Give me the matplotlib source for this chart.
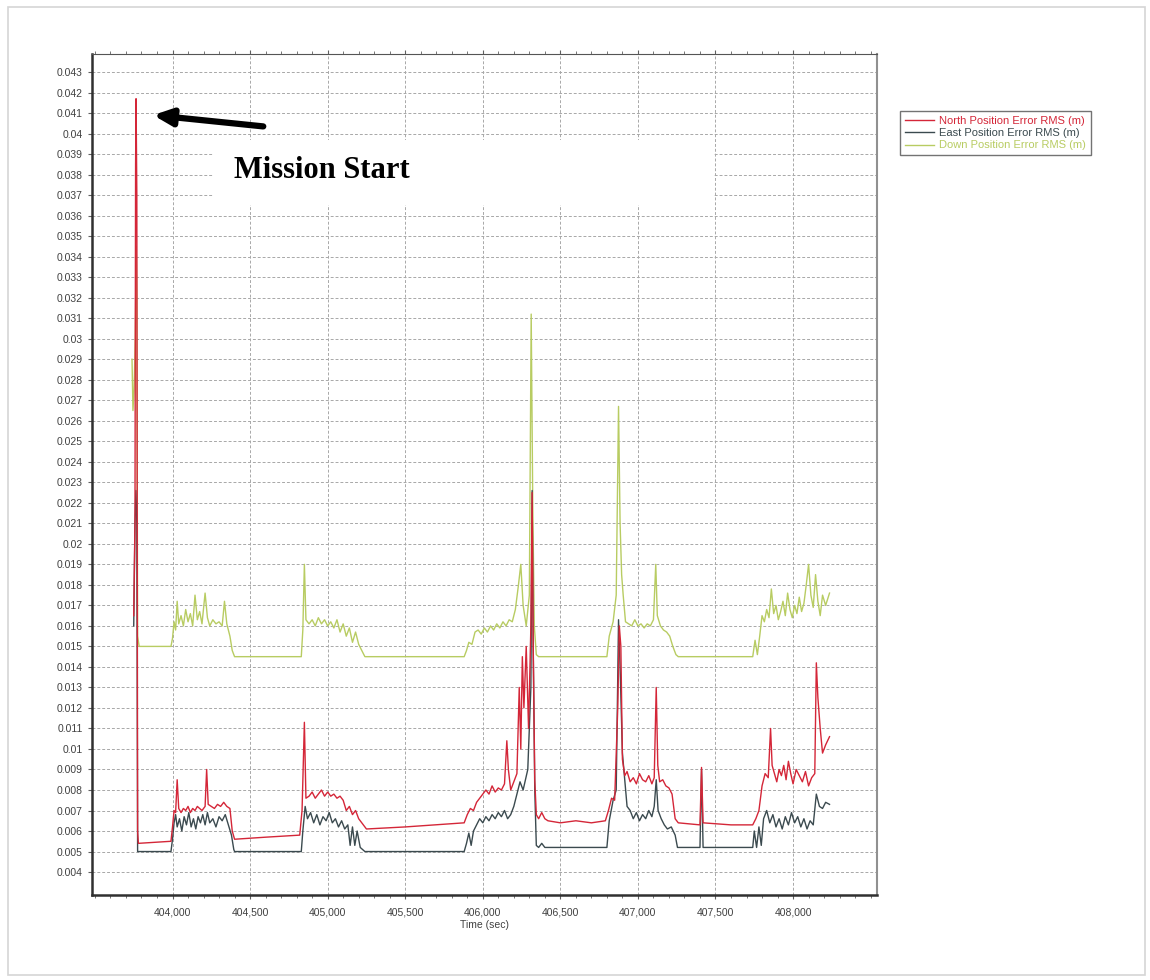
import numpy as np
import matplotlib
matplotlib.use("Agg")
import matplotlib.pyplot as plt
from matplotlib.ticker import MultipleLocator, FixedLocator, FuncFormatter
from matplotlib.patches import Rectangle

# North Position Error RMS (m)
north_t = [403750, 403758, 403762, 403765, 403770, 403775, 403780, 403990, 404000, 404010,
           404020, 404030, 404040, 404055, 404070, 404085, 404100, 404115, 404130, 404145,
           404160, 404175, 404190, 404210, 404220, 404230, 404250, 404270, 404290, 404310,
           404330, 404350, 404370, 404385, 404400, 404600, 404820, 404835, 404850, 404860,
           404880, 404900, 404920, 404940, 404960, 404980, 405000, 405020, 405040, 405060,
           405080, 405100, 405120, 405140, 405160, 405180, 405200, 405230, 405250, 405500,
           405880, 405900, 405920, 405940, 405960, 405980, 406000, 406020, 406040, 406060,
           406080, 406100, 406120, 406140, 406155, 406165, 406180, 406200, 406220, 406235,
           406245, 406255, 406265, 406280, 406295, 406310, 406318, 406325, 406335, 406345,
           406360, 406380, 406400, 406420, 406500, 406600, 406700, 406790, 406810, 406830,
           406850, 406870, 406880, 406890, 406900, 406915, 406930, 406950, 406970, 406990,
           407010, 407030, 407050, 407070, 407090, 407105, 407118, 407128, 407140, 407160,
           407180, 407200, 407220, 407240, 407260, 407400, 407410, 407420, 407600, 407740,
           407760, 407780, 407800, 407820, 407840, 407855, 407865, 407880, 407895, 407910,
           407925, 407940, 407955, 407970, 407985, 408000, 408020, 408040, 408060, 408080,
           408100, 408120, 408140, 408150, 408160, 408175, 408190, 408210, 408235]
north_v = [0.0165, 0.0210, 0.0385, 0.0417, 0.0370, 0.0060, 0.0054, 0.0055, 0.0062, 0.0070,
           0.0069, 0.0085, 0.0071, 0.0069, 0.0071, 0.0070, 0.0072, 0.0069, 0.0071, 0.0070,
           0.0072, 0.0071, 0.0070, 0.0072, 0.0090, 0.0073, 0.0072, 0.0071, 0.0073, 0.0072,
           0.0074, 0.0072, 0.0071, 0.0060, 0.0056, 0.0057, 0.0058, 0.0070, 0.0113, 0.0076,
           0.0077, 0.0079, 0.0076, 0.0078, 0.0080, 0.0077, 0.0079, 0.0077, 0.0078, 0.0076,
           0.0077, 0.0075, 0.0070, 0.0072, 0.0068, 0.0070, 0.0066, 0.0063, 0.0061, 0.0062,
           0.0064, 0.0068, 0.0071, 0.0070, 0.0074, 0.0076, 0.0078, 0.0080, 0.0078, 0.0082,
           0.0079, 0.0081, 0.0080, 0.0083, 0.0104, 0.0090, 0.0080, 0.0084, 0.0088, 0.0130,
           0.0100, 0.0145, 0.0120, 0.0150, 0.0110, 0.0160, 0.0225, 0.0150, 0.0085, 0.0068,
           0.0066, 0.0069, 0.0066, 0.0065, 0.0064, 0.0065, 0.0064, 0.0065, 0.0070, 0.0076,
           0.0075, 0.0120, 0.0160, 0.0150, 0.0095, 0.0087, 0.0089, 0.0084, 0.0086, 0.0083,
           0.0088, 0.0085, 0.0084, 0.0087, 0.0083, 0.0086, 0.0130, 0.0092, 0.0084, 0.0085,
           0.0082, 0.0081, 0.0078, 0.0066, 0.0064, 0.0063, 0.0091, 0.0064, 0.0063, 0.0063,
           0.0066, 0.0070, 0.0082, 0.0088, 0.0086, 0.0110, 0.0092, 0.0088, 0.0084, 0.0090,
           0.0087, 0.0092, 0.0085, 0.0094, 0.0088, 0.0083, 0.0090, 0.0087, 0.0084, 0.0089,
           0.0082, 0.0086, 0.0088, 0.0142, 0.0125, 0.0110, 0.0098, 0.0102, 0.0106]

# East Position Error RMS (m)
east_t = [403750, 403758, 403764, 403770, 403775, 403990, 404000, 404010, 404020, 404030,
          404045, 404060, 404075, 404090, 404105, 404120, 404135, 404150, 404165, 404180,
          404195, 404210, 404225, 404240, 404260, 404280, 404300, 404320, 404340, 404360,
          404380, 404395, 404400, 404830, 404840, 404855, 404870, 404890, 404910, 404930,
          404950, 404970, 404990, 405010, 405030, 405050, 405070, 405090, 405110, 405130,
          405145, 405160, 405175, 405190, 405210, 405240, 405880, 405895, 405910, 405925,
          405940, 405960, 405980, 406000, 406020, 406040, 406060, 406080, 406100, 406120,
          406140, 406160, 406180, 406200, 406220, 406240, 406260, 406290, 406310, 406318,
          406325, 406335, 406345, 406360, 406380, 406400, 406800, 406815, 406840, 406860,
          406875, 406885, 406900, 406915, 406930, 406950, 406970, 406990, 407010, 407030,
          407050, 407070, 407090, 407105, 407118, 407130, 407150, 407170, 407190, 407215,
          407240, 407255, 407400, 407410, 407420, 407740, 407750, 407765, 407780, 407795,
          407810, 407830, 407850, 407870, 407890, 407910, 407930, 407950, 407970, 407990,
          408010, 408030, 408050, 408070, 408090, 408110, 408130, 408150, 408170, 408190,
          408210, 408235]
east_v = [0.0160, 0.0210, 0.0226, 0.0210, 0.0050, 0.0050, 0.0056, 0.0064, 0.0068, 0.0062,
          0.0066, 0.0060, 0.0067, 0.0063, 0.0069, 0.0062, 0.0066, 0.0061, 0.0067, 0.0064,
          0.0068, 0.0063, 0.0069, 0.0064, 0.0066, 0.0062, 0.0067, 0.0065, 0.0068, 0.0063,
          0.0058, 0.0051, 0.0050, 0.0050, 0.0060, 0.0072, 0.0066, 0.0069, 0.0064, 0.0068,
          0.0063, 0.0067, 0.0065, 0.0069, 0.0064, 0.0066, 0.0062, 0.0065, 0.0061, 0.0063,
          0.0053, 0.0062, 0.0053, 0.0060, 0.0052, 0.0050, 0.0050, 0.0054, 0.0059, 0.0053,
          0.0060, 0.0063, 0.0066, 0.0064, 0.0067, 0.0065, 0.0068, 0.0066, 0.0069, 0.0067,
          0.0070, 0.0066, 0.0068, 0.0072, 0.0078, 0.0084, 0.0080, 0.0090, 0.0130, 0.0226,
          0.0150, 0.0080, 0.0053, 0.0052, 0.0054, 0.0052, 0.0052, 0.0065, 0.0075, 0.0080,
          0.0163, 0.0140, 0.0098, 0.0085, 0.0072, 0.0070, 0.0066, 0.0069, 0.0065, 0.0068,
          0.0066, 0.0070, 0.0067, 0.0072, 0.0085, 0.0070, 0.0066, 0.0063, 0.0061, 0.0062,
          0.0058, 0.0052, 0.0052, 0.0090, 0.0052, 0.0052, 0.0060, 0.0052, 0.0062, 0.0053,
          0.0066, 0.0070, 0.0064, 0.0068, 0.0062, 0.0066, 0.0061, 0.0067, 0.0063, 0.0069,
          0.0064, 0.0067, 0.0062, 0.0066, 0.0061, 0.0065, 0.0063, 0.0078, 0.0072, 0.0071,
          0.0074, 0.0073]

# Down Position Error RMS (m)
down_t = [403739, 403745, 403752, 403760, 403766, 403770, 403775, 403785, 403990, 404000,
          404010, 404020, 404030, 404040, 404055, 404070, 404085, 404100, 404115, 404130,
          404145, 404160, 404175, 404190, 404210, 404225, 404240, 404260, 404280, 404300,
          404320, 404335, 404350, 404370, 404385, 404400, 404830, 404840, 404850, 404860,
          404880, 404900, 404920, 404940, 404960, 404980, 405000, 405020, 405040, 405060,
          405080, 405100, 405120, 405140, 405160, 405180, 405200, 405220, 405240, 405880,
          405895, 405910, 405930, 405950, 405970, 405990, 406010, 406030, 406050, 406070,
          406090, 406110, 406130, 406150, 406170, 406190, 406210, 406230, 406245, 406260,
          406280, 406300, 406312, 406322, 406332, 406345, 406360, 406800, 406815, 406840,
          406860, 406875, 406885, 406895, 406905, 406920, 406940, 406960, 406980, 407000,
          407020, 407040, 407060, 407080, 407100, 407115, 407125, 407145, 407165, 407185,
          407205, 407225, 407245, 407260, 407740, 407755, 407770, 407785, 407800, 407815,
          407830, 407845, 407860, 407875, 407890, 407905, 407920, 407935, 407950, 407965,
          407980, 407995, 408010, 408025, 408040, 408055, 408070, 408085, 408100, 408115,
          408130, 408145, 408160, 408175, 408190, 408210, 408235]
down_v = [0.0290, 0.0265, 0.0275, 0.0300, 0.0345, 0.0320, 0.0155, 0.0150, 0.0150, 0.0154,
          0.0162, 0.0158, 0.0172, 0.0161, 0.0165, 0.0160, 0.0168, 0.0162, 0.0166, 0.0160,
          0.0175, 0.0163, 0.0167, 0.0161, 0.0176, 0.0164, 0.0160, 0.0163, 0.0161, 0.0162,
          0.0160, 0.0172, 0.0161, 0.0155, 0.0148, 0.0145, 0.0145, 0.0158, 0.0190, 0.0163,
          0.0161, 0.0163, 0.0160, 0.0164, 0.0161, 0.0163, 0.0160, 0.0162, 0.0159, 0.0163,
          0.0157, 0.0161, 0.0155, 0.0159, 0.0152, 0.0157, 0.0151, 0.0148, 0.0145, 0.0145,
          0.0148, 0.0152, 0.0151, 0.0157, 0.0158, 0.0156, 0.0159, 0.0157, 0.0160, 0.0158,
          0.0161, 0.0159, 0.0162, 0.0160, 0.0163, 0.0162, 0.0168, 0.0180, 0.0190, 0.0170,
          0.0160, 0.0175, 0.0312, 0.0220, 0.0160, 0.0146, 0.0145, 0.0145, 0.0155, 0.0162,
          0.0175, 0.0267, 0.0210, 0.0185, 0.0175, 0.0162, 0.0161, 0.0160, 0.0163, 0.0160,
          0.0161, 0.0159, 0.0161, 0.0160, 0.0163, 0.0190, 0.0165, 0.0160, 0.0158, 0.0157,
          0.0155, 0.0150, 0.0146, 0.0145, 0.0145, 0.0153, 0.0146, 0.0155, 0.0165, 0.0162,
          0.0168, 0.0164, 0.0178, 0.0166, 0.0170, 0.0163, 0.0167, 0.0172, 0.0165, 0.0176,
          0.0168, 0.0164, 0.0170, 0.0166, 0.0174, 0.0167, 0.0171, 0.0180, 0.0190, 0.0175,
          0.0169, 0.0185, 0.0172, 0.0165, 0.0175, 0.0170, 0.0176]

labels = ["North Position Error RMS (m)", "East Position Error RMS (m)",
          "Down Position Error RMS (m)"]
colors = ["#d42638", "#3b4a4f", "#b8cc62"]

x_ticks = [404000, 404500, 405000, 405500, 406000, 406500, 407000, 407500, 408000]
y_ticks = [round(0.004 + 0.001 * i, 3) for i in range(40)]

plt.rcParams['font.family'] = ['Liberation Sans', 'DejaVu Sans']

fig = plt.figure(figsize=(11.5, 9.8), dpi=100)
ax = fig.add_axes([0.080, 0.0867, 0.6826, 0.8582])

ax.plot(north_t, north_v, color=colors[0], lw=1.0, zorder=4, label=labels[0])
ax.plot(east_t, east_v, color=colors[1], lw=1.0, zorder=3, label=labels[1])
ax.plot(down_t, down_v, color=colors[2], lw=1.0, zorder=2, label=labels[2])

ax.set_xlim(403481, 408541)
ax.set_ylim(0.00288, 0.04388)
ax.yaxis.set_major_locator(FixedLocator(y_ticks))
ax.yaxis.set_major_formatter(FuncFormatter(lambda v, p: f"{round(v, 3):g}"))
ax.xaxis.set_major_locator(FixedLocator(x_ticks))
ax.xaxis.set_minor_locator(MultipleLocator(100))
ax.xaxis.set_major_formatter(FuncFormatter(lambda v, p: f"{v:,.0f}"))

ax.grid(True, which='major', color='#a8a8a8', linestyle=(0, (3, 2)), lw=0.7, zorder=0)
ax.tick_params(axis='both', labelsize=7.5, labelcolor='#404040', color='#606060', length=3)
ax.tick_params(axis='x', which='major', pad=6)
ax.tick_params(axis='x', which='minor', length=2, color='#606060')
ax.tick_params(axis='x', top=True, which='both')

for side in ['left', 'bottom']:
    ax.spines[side].set_linewidth(1.8)
    ax.spines[side].set_color('#303030')
ax.spines['top'].set_color('#555555')
ax.spines['right'].set_color('#909090')
ax.spines['right'].set_linewidth(1.5)

ax.set_xlabel("Time (sec)", fontsize=7.5, color='#404040', labelpad=2)

# white patch behind the label
fig.add_artist(Rectangle((213 / 1150, 1 - 205 / 980), 500 / 1150, 65 / 980,
                         transform=fig.transFigure, facecolor='white',
                         edgecolor='none', zorder=5))
fig.text(234 / 1150, 1 - 171 / 980, "Mission Start", fontsize=22, fontweight='bold',
         family='Liberation Serif', va='center', ha='left', zorder=6)
ax.annotate("", xy=(403875, 0.04090), xytext=(404585, 0.04035),
            arrowprops=dict(arrowstyle='-|>,head_length=1.1,head_width=0.5',
                            lw=4.5, color='black', shrinkA=0, shrinkB=0), zorder=7)

leg = fig.legend(loc='upper left', bbox_to_anchor=(900 / 1150, 1 - 111 / 980),
                 fontsize=8, frameon=True, fancybox=False, borderpad=0.45,
                 handlelength=2.6, handletextpad=0.5, labelspacing=0.2,
                 borderaxespad=0)
leg.get_frame().set_edgecolor('#505050')
leg.get_frame().set_linewidth(1.0)
for txt, c in zip(leg.get_texts(), colors):
    txt.set_color(c)

# outer page border
fig.add_artist(Rectangle((8 / 1150, 5 / 980), 1137 / 1150, 968 / 980,
                         transform=fig.transFigure, facecolor='none',
                         edgecolor='#d5d5d5', lw=1.2))

fig.savefig("out.png", dpi=100)
